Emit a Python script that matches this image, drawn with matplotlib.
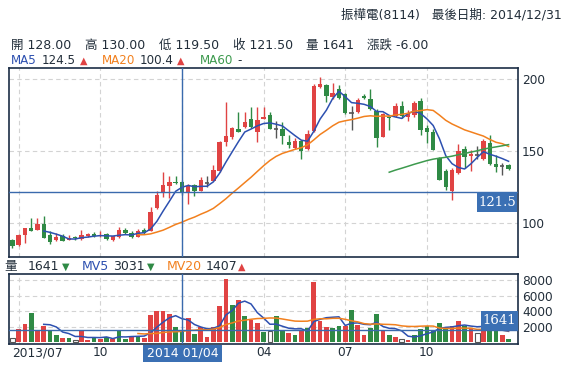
import numpy as np
import pandas as pd
import matplotlib
matplotlib.use("Agg")
import matplotlib.pyplot as plt
from matplotlib.patches import Rectangle
import matplotlib.transforms as mtrans

plt.rcParams['font.family'] = ['DejaVu Sans', 'Noto Sans CJK TC']

# ---------------- data (weekly) ----------------
opens = [87.9, 84.4, 91.4, 96.5, 95.1, 99.1, 91.4, 87.9, 90.5, 88.1,
         89.8, 88.6, 90.9, 92.1, 90.7, 92.1, 88.1, 89.8, 95.1, 92.6,
         90.2, 95.1, 94.4, 110.0, 121.4, 125.8, 128.4, 128.0, 120.9, 126.0,
         122.3, 127.9, 129.3, 136.3, 156.5, 159.6, 165.4, 166.7, 172.3, 163.0,
         172.5, 175.1, 165.6, 165.4, 156.3, 152.1, 157.2, 151.4, 163.7, 194.7,
         196.0, 187.5, 193.3, 189.8, 176.5, 177.2, 188.2, 186.3, 178.1, 159.8,
         173.8, 174.6, 181.6, 173.5, 175.3, 184.7, 166.0, 163.0, 145.1, 136.3,
         121.9, 134.6, 151.4, 146.5, 147.0, 144.4, 155.6, 140.9, 139.7, 140.4]
highs = [88.5, 92.0, 96.5, 103.0, 103.0, 104.6, 94.2, 93.0, 92.0, 91.4,
         90.5, 94.9, 92.5, 93.3, 94.2, 93.0, 90.9, 96.8, 96.0, 94.0,
         95.5, 96.0, 111.1, 122.1, 135.1, 132.8, 132.6, 130.0, 127.0, 127.0,
         131.9, 132.8, 140.4, 157.0, 184.2, 167.0, 177.0, 177.0, 180.5, 180.9,
         180.7, 177.0, 170.7, 170.5, 161.4, 159.0, 158.0, 164.9, 196.5, 201.6,
         196.5, 197.5, 196.3, 190.5, 181.2, 187.0, 189.5, 193.5, 179.0, 176.5,
         174.5, 183.5, 184.7, 178.5, 184.7, 187.0, 168.0, 165.5, 146.0, 137.5,
         138.0, 154.9, 153.3, 150.5, 153.3, 158.6, 161.4, 147.0, 141.6, 141.0]
lows = [82.1, 84.0, 85.6, 94.0, 94.8, 89.0, 84.9, 87.2, 87.0, 87.8,
        88.0, 88.0, 90.3, 90.0, 89.8, 88.0, 87.3, 89.5, 92.3, 89.1,
        90.0, 92.3, 94.0, 109.5, 118.1, 117.4, 127.0, 119.5, 113.2, 118.8,
        122.0, 125.0, 129.0, 135.5, 153.7, 158.4, 163.0, 166.0, 166.0, 156.5,
        172.0, 165.0, 159.0, 154.7, 152.1, 151.5, 144.4, 150.5, 163.0, 194.0,
        184.0, 186.5, 186.0, 176.0, 164.9, 176.5, 186.5, 178.5, 152.6, 159.5,
        164.9, 174.0, 173.0, 171.1, 173.5, 161.4, 155.6, 150.5, 129.5, 123.0,
        116.0, 134.0, 138.1, 135.8, 144.6, 144.0, 140.5, 135.1, 133.5, 137.0]
closes = [83.9, 91.4, 96.3, 94.4, 99.1, 89.5, 86.7, 90.0, 87.4, 89.3,
          89.3, 91.4, 92.1, 90.5, 91.4, 88.4, 90.7, 94.9, 92.6, 90.2,
          94.4, 92.6, 107.6, 119.3, 126.3, 128.6, 127.5, 121.5, 125.8, 121.9,
          129.8, 127.9, 136.7, 156.3, 160.3, 165.8, 163.5, 170.2, 166.7, 171.4,
          174.0, 165.6, 165.6, 160.7, 154.4, 157.2, 149.8, 161.9, 195.6, 197.0,
          188.2, 190.5, 187.0, 176.5, 176.5, 185.8, 187.0, 179.3, 159.1, 175.8,
          172.8, 181.6, 174.2, 176.5, 183.5, 164.9, 163.0, 150.9, 130.0, 124.7,
          137.0, 149.8, 145.6, 147.9, 147.0, 157.2, 140.9, 138.6, 139.7, 137.6]
volumes = [540, 1740, 2390, 3760, 1570, 2130, 1480, 970, 540, 580,
           280, 1480, 320, 540, 490, 710, 410, 1480, 450, 750,
           840, 580, 3570, 4000, 4000, 3600, 1950, 1641, 3180, 1100,
           2040, 750, 2040, 4710, 8060, 4840, 5480, 3330, 2900, 2520,
           1390, 1520, 3380, 1570, 1260, 970, 1570, 1890, 7680, 2700,
           2000, 1870, 2150, 2130, 4170, 2170, 990, 1890, 3680, 1500,
           990, 750, 470, 320, 990, 1760, 2060, 1630, 2530, 1680,
           2060, 2790, 2090, 1870, 1240, 2300, 1870, 1440, 1010, 500]
vol_dir = "nuuduuddudnuudududduduuuuudduduuuuududuudnddududuuudduduuddudunudddddduudunuddud"

tick_pos = [1, 14, 27, 40, 53, 66]
tick_labels = ["2013/07", "10", "01", "04", "07", "10"]
hover = 27
title_text = "振樺電(8114)   最後日期: 2014/12/31"
ohlc_text = [("開 128.00", 11), ("高 130.00", 85), ("低 119.50", 159),
             ("收 121.50", 233), ("量 1641", 306), ("漲跌 -6.00", 367)]
date_box_text = "2014 01/04"

# ---------------- styles ----------------
RED = "#e04343"
GREEN = "#2f8a45"
GREY = "#555555"
BLUE = "#2d50b0"
ORANGE = "#f2801e"
MGREEN = "#3d9a4e"
CROSS = "#3a6aad"
BOX = "#3b70b4"
SPINE = "#1b2d45"
TXT = "#222e3a"
GRID = "#d3d3d3"

W, H = 568, 367
fig = plt.figure(figsize=(W / 100, H / 100), dpi=100)
fx = lambda x: x / W
fy = lambda y: 1 - y / H

ax = fig.add_axes([fx(9), fy(257), 509 / W, 189 / H])
axv = fig.add_axes([fx(9), fy(343.5), 509 / W, 69.5 / H])

n = len(closes)
x = np.arange(n)
o = np.array(opens); c = np.array(closes); hi = np.array(highs); lo = np.array(lows)
vol = np.array(volumes)

for a in (ax, axv):
    a.set_xlim(-0.53, 80.5)
    for s in a.spines.values():
        s.set_color(SPINE)
        s.set_linewidth(1.2)
    a.yaxis.tick_right()
    a.tick_params(axis='y', length=0, pad=3, labelsize=8.7, labelcolor=TXT)
    a.tick_params(axis='x', length=0, labelbottom=False)
    a.set_xticks(tick_pos)
    a.grid(True, color=GRID, lw=0.8, dashes=(4, 3))
    a.set_axisbelow(True)

ax.set_ylim(76, 207.9)
ax.set_yticks([100, 150, 200])
axv.set_ylim(-130, 8750)
axv.set_yticks([2000, 4000, 6000, 8000])

# candles
cols = [RED if cc > oo else (GREEN if cc < oo else GREY) for oo, cc in zip(o, c)]
ax.vlines(x, lo, hi, colors=cols, lw=1.0, zorder=3)
body_w = 0.7
for i in range(n):
    if c[i] == o[i]:
        ax.hlines(c[i], i - body_w / 2, i + body_w / 2, colors=GREY, lw=1.2, zorder=4)
    else:
        ax.bar(i, max(abs(c[i] - o[i]), 0.4), bottom=min(o[i], c[i]), width=body_w,
               color=cols[i], zorder=4, linewidth=0)

cs = pd.Series(c)
for per, col in ((5, BLUE), (20, ORANGE), (60, MGREEN)):
    ma = cs.rolling(per).mean()
    ma.iloc[:per] = np.nan
    ax.plot(x, ma, color=col, lw=1.1, zorder=5)

# volume
for i in range(n):
    d = vol_dir[i]
    if d == 'n':
        axv.bar(i, vol[i], width=0.75, facecolor='white', edgecolor=GREY, lw=0.8, zorder=3)
    else:
        axv.bar(i, vol[i], width=0.75, color=RED if d == 'u' else GREEN, zorder=3, linewidth=0)
vs = pd.Series(vol, dtype=float)
for per, col in ((5, BLUE), (20, ORANGE)):
    mv = vs.rolling(per).mean()
    mv.iloc[:per] = np.nan
    axv.plot(x, mv, color=col, lw=1.1, zorder=5)

# crosshair
ax.axvline(hover, color=CROSS, lw=1, zorder=6)
ax.axhline(c[hover], color=CROSS, lw=1, zorder=6)
axv.axvline(hover, color=CROSS, lw=1, zorder=6)
axv.axhline(vol[hover], color=CROSS, lw=1, zorder=6)

def px(axis, xv, yv):
    X, Y = axis.transData.transform((xv, yv))
    return X, H - Y

# price box (hangs below the line)
_, yl = px(ax, 0, c[hover])
fig.add_artist(Rectangle((fx(477), fy(yl + 20.5)), 40 / W, 20 / H, transform=fig.transFigure,
                         fc=BOX, ec='none', zorder=10))
fig.text(fx(497), fy(yl + 10.5), f"{c[hover]:.1f}", ha='center', va='center', color='white',
         fontsize=9.5, family='DejaVu Serif', zorder=11)
# volume box (sits above the line)
_, yv = px(axv, 0, vol[hover])
fig.add_artist(Rectangle((fx(481), fy(yv)), 37 / W, 19 / H, transform=fig.transFigure,
                         fc=BOX, ec='none', zorder=10))
fig.text(fx(499.5), fy(yv - 9.5), f"{vol[hover]}", ha='center', va='center', color='white',
         fontsize=9.5, family='DejaVu Serif', zorder=11)

# x labels (the hovered tick's label is hidden under the date box)
tr = mtrans.blended_transform_factory(axv.transData, fig.transFigure)
for k, (p, lab) in enumerate(zip(tick_pos, tick_labels)):
    if p == hover:
        continue
    if k == 0:
        axv.text(p - 1.05, fy(352.5), lab, transform=tr, ha='left', va='center', fontsize=8.8, color=TXT)
    else:
        axv.text(p, fy(352.5), lab, transform=tr, ha='center', va='center', fontsize=8.8, color=TXT)
xh, _ = px(axv, hover, 0)
fig.add_artist(Rectangle((fx(xh - 39), fy(362)), 79 / W, 17 / H, transform=fig.transFigure,
                         fc=BOX, ec='none', zorder=10))
fig.text(fx(xh + 0.5), fy(353.5), date_box_text, ha='center', va='center', color='white',
         fontsize=9, zorder=11)

# header texts
fig.text(fx(562), fy(15), title_text, ha='right', va='center', fontsize=9, color=TXT)
for s, xp in ohlc_text:
    fig.text(fx(xp), fy(45), s, ha='left', va='center', fontsize=9, color=TXT)

def seg(items, y):
    for s, xp, col, fs in items:
        fig.text(fx(xp), fy(y), s, ha='left', va='center', fontsize=fs, color=col)

seg([("MA5", 11, BLUE, 8.6), ("124.5", 42, TXT, 8.6), ("▲", 79.5, RED, 7),
     ("MA20", 101.5, ORANGE, 8.6), ("100.4", 140, TXT, 8.6), ("▲", 177, RED, 7),
     ("MA60", 199.5, MGREEN, 8.6), ("-", 237, TXT, 8.6)], 61)
seg([("量", 4, TXT, 9), ("1641", 28, TXT, 9), ("▼", 61.5, GREEN, 7),
     ("MV5", 82, BLUE, 9), ("3031", 113, TXT, 9), ("▼", 147, GREEN, 7),
     ("MV20", 167, ORANGE, 9), ("1407", 206, TXT, 9), ("▲", 238, RED, 7)], 266.7)

fig.savefig("out.png", dpi=100)
